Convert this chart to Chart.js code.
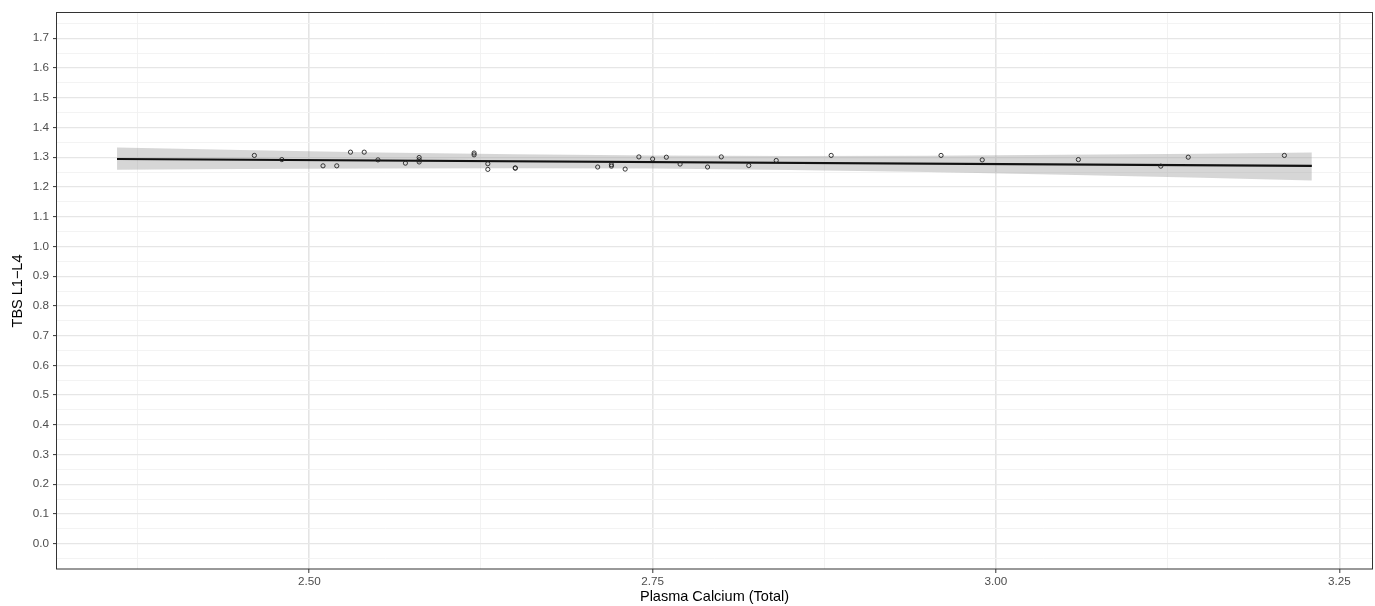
<!DOCTYPE html>
<html>
<head>
<meta charset="utf-8">
<script src="https://cdn.jsdelivr.net/npm/chart.js@4"></script>
<style>
  html, body { margin: 0; padding: 0; background: #ffffff; }
  #wrap { width: 1375px; height: 606px; }
</style>
</head>
<body>
<div id="wrap"><canvas id="c" width="1375" height="606"></canvas></div>
<script>
// ---- data ----
const calcium = [2.46, 2.48, 2.51, 2.52, 2.53, 2.54, 2.55, 2.57, 2.58, 2.58, 2.58, 2.62, 2.62, 2.63, 2.63, 2.65, 2.65, 2.71, 2.72, 2.72, 2.73, 2.74, 2.75, 2.76, 2.77, 2.79, 2.80, 2.82, 2.84, 2.88, 2.96, 2.99, 3.06, 3.12, 3.14, 3.21];
const tbs     = [1.306, 1.292, 1.271, 1.271, 1.317, 1.317, 1.291, 1.280, 1.299, 1.291, 1.284, 1.314, 1.308, 1.278, 1.259, 1.264, 1.263, 1.267, 1.275, 1.270, 1.260, 1.301, 1.294, 1.300, 1.277, 1.267, 1.301, 1.272, 1.289, 1.306, 1.306, 1.291, 1.292, 1.270, 1.300, 1.306];

const fitX = [2.36, 3.23];
const fitY = [1.294, 1.271];

const bandX     = [2.36, 2.45, 2.55, 2.65, 2.75, 2.85, 2.95, 3.05, 3.15, 3.23];
const bandUpper = [1.333, 1.324, 1.316, 1.310, 1.306, 1.304, 1.305, 1.308, 1.312, 1.316];
const bandLower = [1.258, 1.260, 1.262, 1.263, 1.262, 1.257, 1.250, 1.241, 1.231, 1.222];

const xMajorTicks  = [2.50, 2.75, 3.00, 3.25];
const xTickLabels  = ['2.50', '2.75', '3.00', '3.25'];
const xMinorTicks  = [2.375, 2.625, 2.875, 3.125];
const yMajorTicks  = [0.0, 0.1, 0.2, 0.3, 0.4, 0.5, 0.6, 0.7, 0.8, 0.9, 1.0, 1.1, 1.2, 1.3, 1.4, 1.5, 1.6, 1.7];
const yTickLabels  = ['0.0','0.1','0.2','0.3','0.4','0.5','0.6','0.7','0.8','0.9','1.0','1.1','1.2','1.3','1.4','1.5','1.6','1.7'];
const yMinorTicks  = [-0.05, 0.05, 0.15, 0.25, 0.35, 0.45, 0.55, 0.65, 0.75, 0.85, 0.95, 1.05, 1.15, 1.25, 1.35, 1.45, 1.55, 1.65, 1.75];

const xTitle = 'Plasma Calcium (Total)';
const yTitle = 'TBS L1\u2212L4';

// ---- helpers ----
const pts  = calcium.map((x, i) => ({x: x, y: tbs[i]}));
const fit  = fitX.map((x, i) => ({x: x, y: fitY[i]}));
const up   = bandX.map((x, i) => ({x: x, y: bandUpper[i]}));
const lo   = bandX.map((x, i) => ({x: x, y: bandLower[i]}));

const near = (a, b) => Math.abs(a - b) < 1e-6;
const xAll = xMajorTicks.concat(xMinorTicks).sort((a, b) => a - b);
const yAll = yMajorTicks.concat(yMinorTicks).sort((a, b) => a - b);
const isXMajor = v => xMajorTicks.some(t => near(t, v));
const isYMajor = v => yMajorTicks.some(t => near(t, v));
const xLabel = v => { const i = xMajorTicks.findIndex(t => near(t, v)); return i >= 0 ? xTickLabels[i] : ''; };
const yLabel = v => { const i = yMajorTicks.findIndex(t => near(t, v)); return i >= 0 ? yTickLabels[i] : ''; };

const FONT = "'Liberation Sans', Arial, Helvetica, sans-serif";

const panelBorder = {
  id: 'panelBorder',
  afterDraw(chart) {
    const a = chart.chartArea;
    const ctx = chart.ctx;
    ctx.save();
    ctx.strokeStyle = '#333333';
    ctx.lineWidth = 1;
    ctx.strokeRect(a.left - 0.5, a.top - 0.5, a.right - a.left + 1, a.bottom - a.top + 0.5);
    ctx.restore();
  }
};

new Chart(document.getElementById('c'), {
  type: 'line',
  data: {
    datasets: [
      {
        label: 'points',
        data: pts,
        showLine: false,
        pointStyle: 'circle',
        pointRadius: 2.1,
        pointBorderWidth: 0.9,
        pointBorderColor: '#222222',
        pointBackgroundColor: 'rgba(0,0,0,0)',
        pointHoverRadius: 2.1
      },
      {
        label: 'fit',
        data: fit,
        borderColor: '#111111',
        borderWidth: 2.2,
        pointRadius: 0,
        fill: false,
        tension: 0
      },
      {
        label: 'upper',
        data: up,
        borderWidth: 0,
        borderColor: 'rgba(0,0,0,0)',
        pointRadius: 0,
        backgroundColor: 'rgba(153,153,153,0.4)',
        fill: '+1',
        tension: 0
      },
      {
        label: 'lower',
        data: lo,
        borderWidth: 0,
        borderColor: 'rgba(0,0,0,0)',
        pointRadius: 0,
        fill: false,
        tension: 0
      }
    ]
  },
  options: {
    responsive: false,
    animation: false,
    devicePixelRatio: 1,
    layout: { padding: { top: 13, right: 3, left: 0, bottom: 0 } },
    plugins: {
      legend: { display: false },
      tooltip: { enabled: false },
      title: { display: false }
    },
    scales: {
      x: {
        type: 'linear',
        min: 2.3163,
        max: 3.2738,
        afterBuildTicks: s => { s.ticks = xAll.map(v => ({value: v})); },
        afterFit: s => { s.height = 37; },
        border: { display: false },
        grid: {
          color: c => (c.tick && isXMajor(c.tick.value)) ? '#e4e4e4' : '#f1f1f1',
          lineWidth: c => (c.tick && isXMajor(c.tick.value)) ? 1.6 : 0.9,
          tickColor: c => (c.tick && isXMajor(c.tick.value)) ? '#333333' : 'rgba(0,0,0,0)',
          tickLength: 4,
          tickWidth: 1,
          drawTicks: true
        },
        ticks: {
          autoSkip: false,
          maxRotation: 0,
          padding: 2,
          color: '#4d4d4d',
          font: { family: FONT, size: 11.7 },
          callback: v => xLabel(v)
        },
        title: {
          display: true,
          text: xTitle,
          color: '#000000',
          font: { family: FONT, size: 14.5 },
          padding: { top: 0, bottom: 0 }
        }
      },
      y: {
        type: 'linear',
        min: -0.085,
        max: 1.785,
        afterBuildTicks: s => { s.ticks = yAll.map(v => ({value: v})); },
        afterFit: s => { s.width = 57; },
        border: { display: false },
        grid: {
          color: c => (c.tick && isYMajor(c.tick.value)) ? '#e6e6e6' : '#f2f2f2',
          lineWidth: c => (c.tick && isYMajor(c.tick.value)) ? 1.2 : 0.9,
          tickColor: c => (c.tick && isYMajor(c.tick.value)) ? '#333333' : 'rgba(0,0,0,0)',
          tickLength: 4,
          tickWidth: 1,
          drawTicks: true
        },
        ticks: {
          autoSkip: false,
          padding: 4,
          color: '#4d4d4d',
          font: { family: FONT, size: 11.7 },
          callback: v => yLabel(v)
        },
        title: {
          display: true,
          text: yTitle,
          color: '#000000',
          font: { family: FONT, size: 14.5 },
          padding: { top: 9, bottom: 0 }
        }
      }
    }
  },
  plugins: [panelBorder]
});
</script>
</body>
</html>
